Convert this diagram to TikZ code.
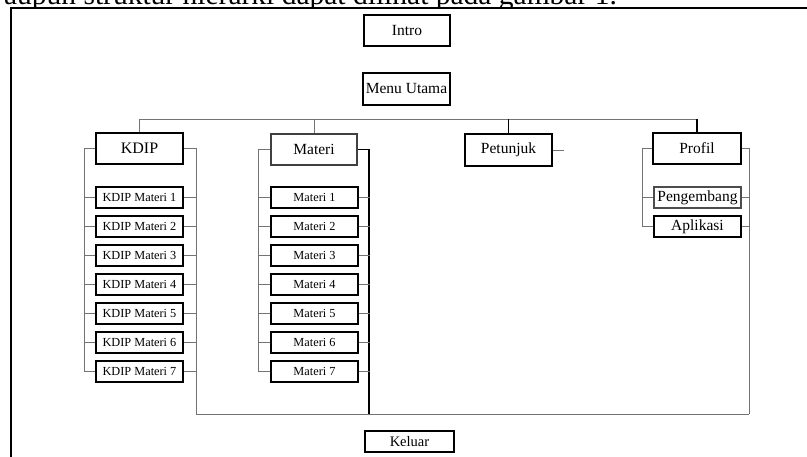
\documentclass[tikz,border=0pt]{standalone}
\usepackage{fontspec}
\setmainfont{Liberation Serif}
\begin{document}
\begin{tikzpicture}[x=1pt,y=-1pt,
  hbox/.style={draw=black,line width=1.1pt,inner sep=0pt,minimum height=31pt,font=\fontsize{15.5}{17}\selectfont},
  sbox/.style={draw=black,line width=1.3pt,inner sep=0pt,minimum width=87pt,minimum height=21pt,font=\fontsize{12.3}{14}\selectfont},
  rail/.style={draw=black!55,line width=0.9pt},
  darkrail/.style={draw=black,line width=1.3pt},
  frame/.style={draw=black,line width=1.8pt}]
\useasboundingbox (0,0) rectangle (807,457);
\fill[white] (0,0) rectangle (807,457);
% cut-off line of page text above the figure
\node[anchor=base east,inner sep=0pt,font=\fontsize{29.5}{30}\selectfont] (pagetext) at (617,5) {aupun struktur hierarki dapat dilihat pada gambar 1.};
\fill[white] (11,8) rectangle (807,457);
% page frame
\draw[frame] (11,457) -- (11,8) -- (807,8);
% top nodes
\node[hbox,minimum width=86pt] (intro) at (407,30.5) {Intro};
\node[hbox,minimum width=87pt,minimum height=32pt,font=\fontsize{15.5}{17}\selectfont] (menu) at (406.5,89) {Menu Utama};
% headings
\node[hbox,minimum width=87pt,font=\fontsize{16}{17}\selectfont] (kdip) at (139.5,148.5) {KDIP};
\node[hbox,minimum width=86pt,draw=black!75] (mat) at (314,149.5) {Materi};
\node[hbox,minimum width=87pt,minimum height=32pt] (pet) at (508.5,150) {Petunjuk};
\node[hbox,minimum width=88pt] (prof) at (697,148.5) {Profil};
% sub boxes
\foreach \i/\yy in {1/197.5,2/226.5,3/255.5,4/284.5,5/313.5,6/342.5,7/371.5}{
  \node[sbox] (k\i) at (139.5,\yy) {KDIP Materi \i};
  \node[sbox] (m\i) at (314.5,\yy) {Materi \i};
}
\node[sbox,draw=black!70] (peng) at (697.5,197.5) {\fontsize{15.5}{17}\selectfont Pengembang};
\node[sbox] (apl) at (697.5,226.5) {\fontsize{15.5}{17}\selectfont Aplikasi};
\node[sbox,minimum width=89pt] (kel) at (409.5,441.5) {\fontsize{14.5}{16}\selectfont Keluar};
% bus
\coordinate (bus) at (0,119);
\coordinate (botR) at (749,414);
\draw[rail] (kdip.north) -- (kdip.north |- bus) -- (prof.north |- bus);
\draw[darkrail] (prof.north |- bus) -- (prof.north);
\draw[darkrail] (pet.north |- bus) -- (pet.north);
\draw[rail] (mat.north |- bus) -- (mat.north);
% KDIP rails
\draw[rail] (kdip.west) -- ++(-11,0) |- (k7.west);
\draw[rail] (kdip.east) -- ++(13,0) |- (botR);
\foreach \i in {1,...,6}{ \draw[rail] (k\i.west) -- ++(-11,0); }
\foreach \i in {1,...,7}{ \draw[rail] (k\i.east) -- ++(13,0); }
% Materi rails
\draw[rail] (mat.west) -- ++(-12,0) |- (m7.west);
\draw[darkrail] (mat.east) -- ++(11.5,0) coordinate (mr) -- (mr |- botR);
\foreach \i in {1,...,6}{ \draw[rail] (m\i.west) -- ++(-12,0); }
\foreach \i in {1,...,7}{ \draw[rail] (m\i.east) -- ++(11,0); }
% Petunjuk stub
\draw[rail] (pet.east) -- ++(11,0);
% Profil rails
\draw[rail] (prof.west) -- ++(-10,0) |- (apl.west);
\draw[rail] (peng.west) -- ++(-11,0);
\draw[rail] (prof.east) -- (botR |- prof.east) -- (botR);
\draw[rail] (peng.east) -- (botR |- peng.east);
\draw[rail] (apl.east) -- (botR |- apl.east);
\end{tikzpicture}
\end{document}
